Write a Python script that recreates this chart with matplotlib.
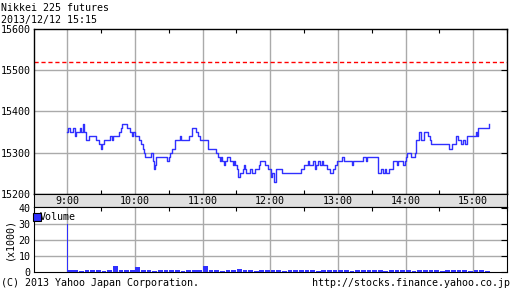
import matplotlib
matplotlib.use("Agg")
import matplotlib.pyplot as plt

# price steps: minutes after 9:00, price
px_min = [0, 0.9, 2.4, 5, 6.8, 7.7, 11, 11.8, 13.9, 15.1, 16.9, 19.2, 25.7, 27.8, 29.6,
          30.8, 32.5, 37.6, 39.6, 40.8, 45.9, 47.6, 48.5, 53.3, 55.3, 57.1, 58.3, 59.8,
          63.6, 65.7, 67.2, 68, 69.2, 74.6, 75.7, 76.6, 77.8, 78.4, 88.5, 89.9, 91.4,
          93.2, 95.3, 99.7, 100.9, 108, 111, 113.9, 116, 117.5, 125.1, 131.7, 133.7,
          135.2, 136.4, 137.6, 138.8, 139.6, 142, 144.7, 147, 147.9, 149.1, 150.3, 151.2,
          153.6, 155.9, 156.8, 158, 158.9, 162.4, 163.9, 166.3, 170, 171.3, 175.1, 178.1,
          180.4, 181.6, 183.4, 185.5, 190.2, 207.7, 209.7, 213.6, 214.5, 218, 219.5,
          220.7, 222.5, 224, 226, 227.2, 229.9, 233.4, 235.8, 237.5, 239.3, 243.8, 245,
          252.1, 253.2, 262.4, 265.1, 266.2, 275.7, 277.8, 280.1, 281.6, 283.1, 285.5,
          289.0, 292, 293.2, 297.9, 299.1, 300, 300.9, 305.0, 308.3, 309.7, 311.8, 313.3,
          316.5, 320.1, 321.6, 322.8, 338.7, 341.1, 344.6, 346.7, 349.1, 350.6, 352.7,
          354.1, 362.4, 363.6, 364.4, 373.9, 374.3]
px_val = [15350, 15360, 15350, 15360, 15340, 15350, 15360, 15350, 15370, 15350, 15330,
          15340, 15330, 15320, 15310, 15320, 15330, 15340, 15330, 15340, 15350, 15360,
          15370, 15360, 15350, 15340, 15350, 15340, 15330, 15320, 15310, 15300, 15290,
          15300, 15280, 15260, 15270, 15290, 15280, 15290, 15300, 15310, 15330, 15340,
          15330, 15340, 15360, 15350, 15340, 15330, 15310, 15300, 15290, 15280, 15290,
          15280, 15270, 15280, 15290, 15280, 15270, 15280, 15270, 15260, 15240, 15250,
          15260, 15270, 15260, 15250, 15260, 15250, 15260, 15270, 15280, 15270, 15260,
          15240, 15250, 15230, 15260, 15250, 15260, 15270, 15280, 15270, 15280, 15260,
          15270, 15280, 15270, 15280, 15270, 15260, 15250, 15260, 15270, 15280, 15290,
          15280, 15270, 15280, 15290, 15280, 15290, 15250, 15260, 15250, 15260, 15250,
          15260, 15280, 15270, 15280, 15270, 15280, 15290, 15300, 15290, 15300, 15330,
          15350, 15330, 15350, 15340, 15330, 15320, 15310, 15320, 15340, 15330, 15320,
          15330, 15320, 15340, 15350, 15340, 15360, 15370, 15370]
prev_close = 15520

# volume (x1000), 5-minute buckets after the opening print
vol_open = 30
vol_min = [2.5 + 5 * i for i in range(75)]
vol_val = [1.0, 1.2, 0.9, 1.1, 1.3, 1.0, 0.9, 1.2, 3.5, 1.1, 1.0, 1.2, 3.0, 1.0, 1.1,
           0.9, 1.2, 1.0, 1.1, 1.3, 0.9, 1.0, 1.2, 1.1, 4.0, 1.3, 1.0, 0.9, 1.1, 1.2,
           1.8, 1.0, 1.1, 0.9, 1.2, 1.0, 1.1, 1.0, 0.9, 1.2, 1.1, 1.0, 1.3, 1.0, 0.9,
           1.1, 1.2, 1.0, 1.1, 1.2, 0.9, 1.0, 1.1, 1.3, 1.0, 1.2, 0.9, 1.1, 1.0, 1.2,
           1.1, 0.9, 1.0, 1.2, 1.1, 1.0, 0.9, 1.1, 1.2, 1.0, 1.1, 0.9, 1.0, 1.1, 0.8]

hours = ["9:00", "10:00", "11:00", "12:00", "13:00", "14:00", "15:00"]

W, H = 512, 301
plt.rcParams['font.family'] = ['DejaVu Sans Mono']
fs = 7.2
grid_c = '#aaaaaa'
line_c = '#3030ff'

fig = plt.figure(figsize=(W / 100, H / 100), dpi=100)


def box(l, t, r, b):
    return [l / W, (H - b) / H, (r - l) / W, (b - t) / H]


hour_x = [60 * i for i in range(len(hours))]
half_x = [30 + 60 * i for i in range(len(hours))]

# main price panel
ax = fig.add_axes(box(33.5, 29, 507, 194))
ax.set_xlim(-30, 390)
ax.set_ylim(15200, 15600)
for x in hour_x:
    ax.axvline(x, color=grid_c, lw=1, zorder=1)
for y in [15300, 15400, 15500]:
    ax.axhline(y, color=grid_c, lw=1, zorder=1)
ax.axhline(prev_close, color='red', lw=1, ls=(0, (3, 2)), zorder=2)
ax.plot(px_min, px_val, drawstyle='steps-post', color=line_c, lw=1.0, zorder=3)
ax.set_xticks(half_x)
ax.set_xticklabels([])
ax.tick_params(axis='x', direction='in', length=3, top=True, bottom=True)
ax.set_yticks([15200, 15300, 15400, 15500, 15600])
ax.set_yticklabels(['15200', '15300', '15400', '15500', '15600'], fontsize=fs)
ax.tick_params(axis='y', direction='in', length=4, left=False, right=True, pad=2)
for s in ax.spines.values():
    s.set_linewidth(1)

# time label band
band = fig.add_axes(box(33.5, 194, 507, 207))
band.set_facecolor('#e0e0e0')
band.set_xlim(-30, 390)
band.set_ylim(0, 1)
band.set_yticks([])
band.set_xticks([])
for x, lab in zip(hour_x, hours):
    band.text(x, 0.45, lab, ha='center', va='center', fontsize=fs)

# volume panel
av = fig.add_axes(box(33.5, 207, 507, 272))
av.set_xlim(-30, 390)
av.set_ylim(0, 40.6)
for x in hour_x:
    av.axvline(x, color=grid_c, lw=1, zorder=1)
for y in [10, 20, 30]:
    av.axhline(y, color=grid_c, lw=1, zorder=1)
av.bar([0], [vol_open], width=0.6, color=line_c, zorder=3)
av.bar(vol_min, vol_val, width=4.2, color=line_c, zorder=3)
av.set_xticks(half_x)
av.set_xticklabels([])
av.tick_params(axis='x', direction='in', length=3, top=True, bottom=False)
av.set_yticks([0, 10, 20, 30, 40])
av.set_yticklabels(['0', '10', '20', '30', '40'], fontsize=fs)
av.tick_params(axis='y', direction='in', length=4, left=False, right=True, pad=2)
av.set_ylabel('(x1000)', fontsize=fs, labelpad=3)
av.plot([-27], [34.5], marker='s', ms=5.5, color=line_c, mec='black', mew=0.8,
        linestyle='none', zorder=4, clip_on=False)
av.text(-24.5, 34.5, 'Volume', fontsize=fs, va='center', ha='left', zorder=4)

fig.text(1 / W, 1 - 8 / H, 'Nikkei 225 futures', fontsize=fs, va='center')
fig.text(1 / W, 1 - 20 / H, '2013/12/12 15:15', fontsize=fs, va='center')
fig.text(1 / W, 1 - 283 / H, '(C) 2013 Yahoo Japan Corporation.', fontsize=fs, va='center')
fig.text(510 / W, 1 - 283 / H, 'http://stocks.finance.yahoo.co.jp', fontsize=fs,
         va='center', ha='right')

fig.savefig('out.png', dpi=100)
